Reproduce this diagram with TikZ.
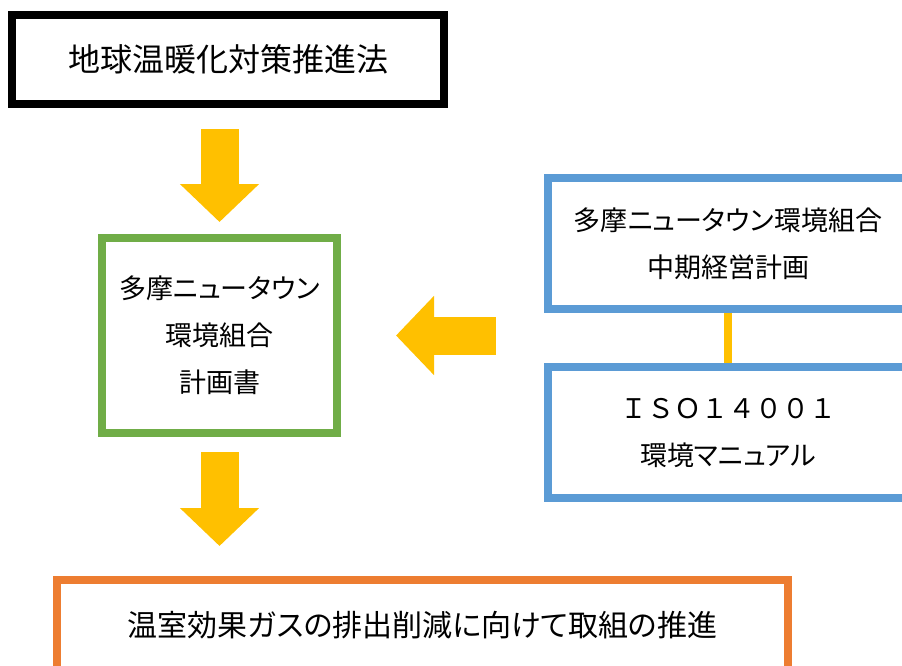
\documentclass[tikz,border=0pt]{standalone}
\usepackage{fontspec}
\newfontfamily\jp[RawFeature={+palt}]{Noto Sans CJK JP}
\newfontfamily\jpfull{Noto Sans CJK JP}
\usetikzlibrary{arrows.meta}
\definecolor{plangreen}{HTML}{70AD47}
\definecolor{isoblue}{HTML}{5B9BD5}
\definecolor{goalorange}{HTML}{ED7D31}
\definecolor{flowyellow}{HTML}{FFC000}
\begin{document}
\begin{tikzpicture}[x=1pt,y=-1pt,
  box/.style={draw,line width=8pt,fill=white,text=black,inner sep=0pt,align=center},
  fat/.style={flowyellow,line width=38pt,-{Triangle[width=77pt,length=38pt]}},
  mid/.style={font=\jp\fontsize{27}{47}\selectfont}]
\useasboundingbox (0,0) rectangle (902,665);
\node at (228,59.5) [box][draw=black][minimum width=432pt,minimum height=89pt][font=\jp\fontsize{32}{40}\selectfont] (law) {地球温暖化対策推進法};
\node at (219.5,335.5) [box][draw=plangreen][minimum width=235pt,minimum height=195pt][mid] (plan) {多摩ニュータウン\\環境組合\\計画書};
\node at (728,243.5) [box][draw=isoblue][minimum width=360pt,minimum height=131pt][mid] (midterm) {多摩ニュータウン環境組合\\中期経営計画};
\node at (728,432.5) [box][draw=isoblue][minimum width=360pt,minimum height=131pt][mid] (iso) {{\jpfull ＩＳＯ１４００１}\\環境マニュアル};
\node at (422.5,625) [box][draw=goalorange][minimum width=731pt,minimum height=90pt][font=\jp\fontsize{30}{40}\selectfont] (goal) {温室効果ガスの排出削減に向けて取組の推進};
\draw [fat][shorten <=21pt,shorten >=12pt](law.south -| plan.north)--(plan.north);
\draw [fat][shorten <=48pt,shorten >=55pt](midterm.west |- plan.east)--(plan.east);
\draw [fat][shorten <=15pt,shorten >=30pt](plan.south)--(plan.south |- goal.north);
\draw [line width=8pt][flowyellow](midterm.south)--(iso.north);
\end{tikzpicture}
\end{document}
